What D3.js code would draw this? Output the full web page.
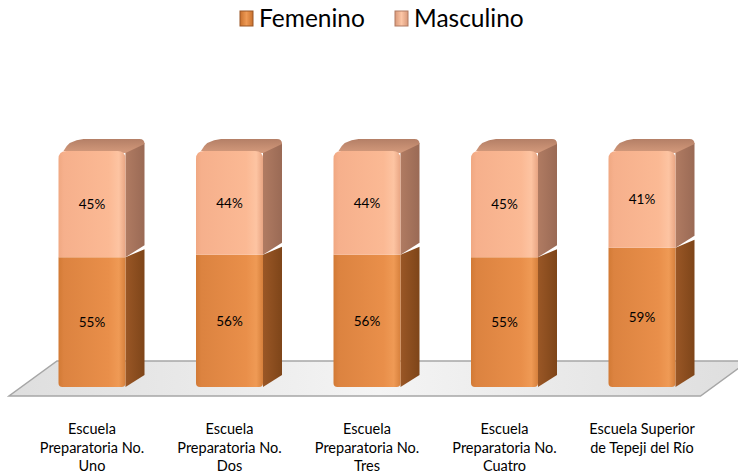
<!DOCTYPE html>
<html>
<head>
<meta charset="utf-8">
<script src="https://cdn.jsdelivr.net/npm/d3@7"></script>
<style>
  html, body { margin: 0; padding: 0; background: #fff; }
  svg { display: block; font-family: Lato, "Open Sans", sans-serif; }
</style>
</head>
<body>
<svg id="chart" width="738" height="475"></svg>
<script>
const categories = [
  'Escuela Preparatoria No. Uno',
  'Escuela Preparatoria No. Dos',
  'Escuela Preparatoria No. Tres',
  'Escuela Preparatoria No. Cuatro',
  'Escuela Superior de Tepeji del Río'
];
const categoryLines = [
  ['Escuela', 'Preparatoria No.', 'Uno'],
  ['Escuela', 'Preparatoria No.', 'Dos'],
  ['Escuela', 'Preparatoria No.', 'Tres'],
  ['Escuela', 'Preparatoria No.', 'Cuatro'],
  ['Escuela Superior', 'de Tepeji del Río']
];
const seriesNames = ['Femenino', 'Masculino'];
const femenino = [55, 56, 56, 55, 59];
const masculino = [45, 44, 44, 45, 41];

const width = 738, height = 475;
const barW = 67;          // front face width
const depthX = 19, depthY = -12;  // bar depth offset
const floorDX = 48, floorDY = -35;

const svg = d3.select('#chart');

const x = d3.scalePoint().domain(categories).range([92, 642]);
const y = d3.scaleLinear().domain([0, 100]).range([387, 151]);

// gradients
const defs = svg.append('defs');
function hGrad(id, stops) {
  const g = defs.append('linearGradient').attr('id', id)
    .attr('x1', '0%').attr('x2', '100%').attr('y1', '0%').attr('y2', '0%');
  stops.forEach(s => g.append('stop').attr('offset', s[0]).attr('stop-color', s[1]));
}
function vGrad(id, stops) {
  const g = defs.append('linearGradient').attr('id', id)
    .attr('x1', '0%').attr('x2', '0%').attr('y1', '0%').attr('y2', '100%');
  stops.forEach(s => g.append('stop').attr('offset', s[0]).attr('stop-color', s[1]));
}
hGrad('femFront', [['0%', '#d27a35'], ['8%', '#dc8340'], ['75%', '#e98f4a'], ['90%', '#ef9a55'], ['100%', '#d6803c']]);
hGrad('masFront', [['0%', '#f0a882'], ['8%', '#f6b08c'], ['75%', '#fbb994'], ['90%', '#fdc4a2'], ['100%', '#e8a583']]);
hGrad('femSide', [['0%', '#9a5726'], ['100%', '#7e4519']]);
hGrad('masSide', [['0%', '#b07b62'], ['100%', '#9a6a55']]);
vGrad('masTop', [['0%', '#b47f66'], ['100%', '#d49a7c']]);
hGrad('floorGrad', [['0%', '#dedede'], ['50%', '#f4f4f4'], ['100%', '#dedede']]);
hGrad('legFem', [['0%', '#c8702d'], ['50%', '#ee9a55'], ['100%', '#c8702d']]);
hGrad('legMas', [['0%', '#d9997a'], ['50%', '#fcc6a6'], ['100%', '#d9997a']]);

// floor
const floorY = y(0) + 9;
const fl = x.range()[0] - 83, fr = x.range()[1] + barW / 2 + 25;
svg.append('path')
  .attr('d', `M${fl},${floorY} L${fr},${floorY} L${fr + floorDX},${floorY + floorDY} L${fl + floorDX},${floorY + floorDY} Z`)
  .attr('fill', 'url(#floorGrad)')
  .attr('stroke', '#a6a6a6')
  .attr('stroke-width', 1.5);

// stacked data
const rows = categories.map((c, i) => ({ cat: c, Femenino: femenino[i], Masculino: masculino[i] }));
const stack = d3.stack().keys(seriesNames)(rows);

const fills = {
  Femenino: { front: 'url(#femFront)', side: 'url(#femSide)' },
  Masculino: { front: 'url(#masFront)', side: 'url(#masSide)' }
};

const bars = svg.append('g');
stack.forEach((layer, li) => {
  const key = layer.key;
  const isTop = li === stack.length - 1;
  layer.forEach((d, i) => {
    const cx = x(d.data.cat);
    const x0 = cx - barW / 2, x1 = cx + barW / 2;
    const yb = y(d[0]), yt = y(d[1]);
    const g = bars.append('g');
    // side face
    g.append('path')
      .attr('d', `M${x1},${yb} L${x1 + depthX},${yb + depthY} L${x1 + depthX},${yt + depthY + 4} L${x1},${yt} Z`)
      .attr('fill', fills[key].side);
    if (isTop) {
      // top face
      g.append('path')
        .attr('d', `M${x0 + 5},${yt} Q${x0 + 10},${yt + depthY + 1} ${x0 + depthX + 6},${yt + depthY} L${x1 + depthX - 5},${yt + depthY} Q${x1 + depthX},${yt + depthY} ${x1 + depthX},${yt + depthY + 5} L${x1},${yt + 2} Z`)
        .attr('fill', 'url(#masTop)');
    }
    // front face
    const r = 8;
    let dPath;
    if (isTop) {
      dPath = `M${x0},${yb} L${x0},${yt + r} Q${x0},${yt} ${x0 + r},${yt} L${x1 - r},${yt} Q${x1},${yt} ${x1},${yt + r} L${x1},${yb} Z`;
    } else {
      dPath = `M${x0},${yt} L${x1},${yt} L${x1},${yb - 4} Q${x1},${yb} ${x1 - 4},${yb} L${x0 + 4},${yb} Q${x0},${yb} ${x0},${yb - 4} Z`;
    }
    g.append('path').attr('d', dPath).attr('fill', fills[key].front);
    // value label
    g.append('text')
      .attr('x', cx)
      .attr('y', (yb + yt) / 2 + 5)
      .attr('text-anchor', 'middle')
      .attr('font-size', 13.5)
      .attr('fill', '#000')
      .text(d.data[key] + '%');
  });
});

// category labels
const labels = svg.append('g');
categories.forEach((c, i) => {
  const t = labels.append('text')
    .attr('x', x(c))
    .attr('y', 434)
    .attr('text-anchor', 'middle')
    .attr('font-size', 14.5)
    .attr('fill', '#000');
  categoryLines[i].forEach((ln, k) => {
    t.append('tspan').attr('x', x(c)).attr('dy', k === 0 ? 0 : 18.5).text(ln);
  });
});

// legend
const legend = svg.append('g');
const legendX = [240, 395];
seriesNames.forEach((s, i) => {
  const lg = legend.append('g').attr('transform', `translate(${legendX[i]},11)`);
  lg.append('rect').attr('width', 13).attr('height', 15)
    .attr('fill', i === 0 ? 'url(#legFem)' : 'url(#legMas)')
    .attr('stroke', i === 0 ? '#9a5726' : '#b07b62').attr('stroke-width', 1);
  lg.append('text').attr('x', 19).attr('y', 16).attr('font-size', 24.5)
    .attr('fill', '#000').text(s);
});
</script>
</body>
</html>
